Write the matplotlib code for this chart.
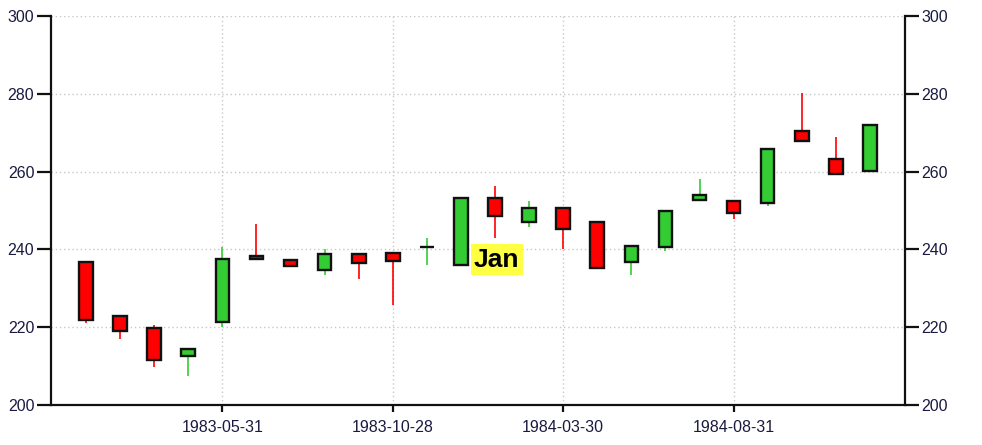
"""Monthly candlestick chart, 1983-1984."""
import matplotlib
matplotlib.use("Agg")
import matplotlib.pyplot as plt

dates = [
    "1983-01-31", "1983-02-28", "1983-03-31", "1983-04-29", "1983-05-31", "1983-06-30",
    "1983-07-29", "1983-08-31", "1983-09-30", "1983-10-28", "1983-11-30", "1983-12-30",
    "1984-01-31", "1984-02-29", "1984-03-30", "1984-04-30", "1984-05-31", "1984-06-29",
    "1984-07-31", "1984-08-31", "1984-09-28", "1984-10-31", "1984-11-30", "1984-12-31",
]
opens = [236.8, 222.9, 219.9, 212.7, 221.3, 238.4, 237.2, 234.7, 238.8, 239.2, 240.5, 236.0,
         253.1, 247.1, 250.6, 247.0, 236.8, 240.5, 252.8, 252.4, 252.0, 270.5, 263.2, 260.2]
highs = [236.8, 222.9, 220.6, 214.7, 240.7, 246.5, 237.2, 240.2, 238.8, 239.2, 242.9, 253.1,
         256.3, 252.4, 250.6, 247.0, 241.0, 249.8, 258.0, 252.4, 265.7, 280.3, 268.8, 272.1]
lows = [221.2, 217.0, 209.7, 207.5, 220.1, 237.5, 235.7, 233.3, 232.3, 225.7, 235.9, 236.0,
        243.0, 245.8, 240.0, 235.3, 233.4, 239.7, 252.8, 247.9, 251.2, 267.9, 259.4, 260.2]
closes = [221.9, 219.0, 211.6, 214.3, 237.5, 237.5, 235.7, 238.7, 236.4, 237.1, 240.6, 253.1,
          248.6, 250.6, 245.2, 235.3, 241.0, 249.8, 253.9, 249.4, 265.7, 267.9, 259.4, 272.1]

tick_idx = [4, 9, 14, 19]
y_ticks = [200, 220, 240, 260, 280, 300]
note_text = "Jan"
note_idx = 12
note_value = 237.4

UP = "#33cc33"
DOWN = "#ff0000"

fig = plt.figure(figsize=(9.82, 4.45), dpi=100)
ax = fig.add_axes([0.0519, 0.0899, 0.8697, 0.8741])

x = list(range(len(dates)))
colors = [UP if c >= o else DOWN for o, c in zip(opens, closes)]
bottoms = [min(o, c) for o, c in zip(opens, closes)]
heights = [max(abs(c - o), 0.05) for o, c in zip(opens, closes)]

# wicks behind the bodies
ax.vlines(x, lows, highs, colors=colors, linewidth=1.2, zorder=2)
ax.bar(x, heights, bottom=bottoms, width=0.4, color=colors,
       edgecolor="#111111", linewidth=1.7, zorder=3)

ax.set_xlim(-1.03, 24.03)
ax.set_ylim(200, 300)

ax.set_xticks(tick_idx)
ax.set_xticklabels([dates[i] for i in tick_idx])
ax.set_yticks(y_ticks)

ax.grid(True, color="#c8c8c8", linestyle=(0, (1, 2)), linewidth=1.0)
ax.set_axisbelow(True)

for side in ["left", "right", "bottom"]:
    ax.spines[side].set_linewidth(1.6)
    ax.spines[side].set_color("#111111")
ax.spines["top"].set_visible(False)

label_color = "#1a1a40"
ax.tick_params(axis="y", which="both", left=True, right=True, labelleft=True, labelright=True,
               length=10, width=1.6, pad=2, labelsize=11.5, labelcolor=label_color, color="#111111")
ax.tick_params(axis="x", length=5, width=1.6, pad=6, labelsize=11.5,
               labelcolor=label_color, color="#111111")
for lbl in ax.get_xticklabels() + ax.yaxis.get_ticklabels(which="both"):
    lbl.set_family("Liberation Sans")

ax.text(note_idx + 0.05, note_value, note_text, ha="center", va="center",
        fontsize=19, fontweight="bold", family="Liberation Sans", color="black",
        bbox=dict(facecolor="#ffff44", edgecolor="none", pad=2.5), zorder=4)

fig.savefig("out.png", dpi=100)
